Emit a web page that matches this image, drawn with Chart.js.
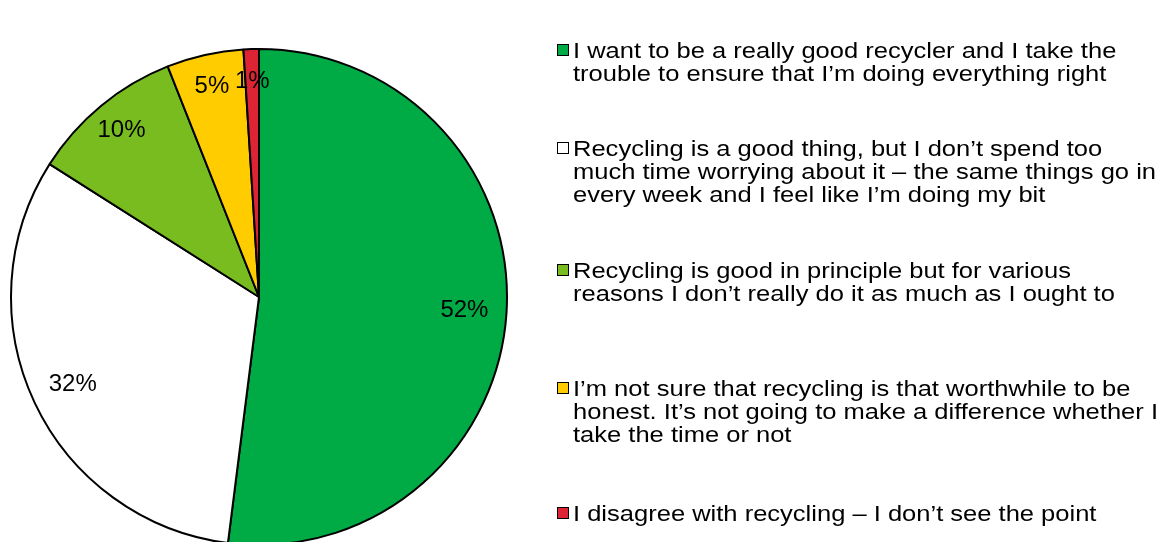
<!DOCTYPE html>
<html>
<head>
<meta charset="utf-8">
<script src="https://cdn.jsdelivr.net/npm/chart.js@4.4.1/dist/chart.umd.min.js"></script>
<style>
  html, body { margin: 0; padding: 0; background: #fff; overflow: hidden; width: 1165px; height: 542px; }
  #wrap { position: absolute; left: 0; top: 0; width: 1165px; height: 542px; overflow: hidden; }
  #pie { position: absolute; left: 0; top: 0; }
  #legend { position: absolute; left: 0; top: 0; width: 1165px; height: 542px; font-family: "Liberation Sans", Arial, sans-serif; color: #000; }
  .item { position: absolute; left: 557px; white-space: nowrap; }
  .box { position: absolute; left: 0; width: 10px; height: 10px; border: 1px solid #000; box-sizing: content-box; }
  .txt { position: absolute; left: 16px; top: 0; font-size: 22px; line-height: 23px; transform-origin: 0 0; transform: scaleX(1.16); }
</style>
</head>
<body>
<div id="wrap">
  <canvas id="pie" width="540" height="600"></canvas>
  <div id="legend"></div>
</div>
<script>
// ---- data ----
const categories = [
  ["I want to be a really good recycler and I take the", "trouble to ensure that I\u2019m doing everything right"],
  ["Recycling is a good thing, but I don\u2019t spend too", "much time worrying about it \u2013 the same things go in", "every week and I feel like I\u2019m doing my bit"],
  ["Recycling is good in principle but for various", "reasons I don\u2019t really do it as much as I ought to"],
  ["I\u2019m not sure that recycling is that worthwhile to be", "honest. It\u2019s not going to make a difference whether I", "take the time or not"],
  ["I disagree with recycling \u2013 I don\u2019t see the point"]
];
const values = [52, 32, 10, 5, 1];
const colors = ["#00AA45", "#FFFFFF", "#78BC20", "#FFCC00", "#DC2434"];

// ---- layout (styles / positions) ----
const legendFirstLineCenters = [50, 148, 270, 388, 513];
const lineHeight = 23;

const pctLabels = {
  id: 'pctLabels',
  afterDatasetsDraw(chart) {
    const ctx = chart.ctx;
    const meta = chart.getDatasetMeta(0);
    ctx.save();
    ctx.font = '24px "Liberation Sans", Arial, sans-serif';
    ctx.fillStyle = '#000';
    ctx.textAlign = 'center';
    ctx.textBaseline = 'middle';
    meta.data.forEach((arc, i) => {
      const p = arc.getProps(['x', 'y', 'startAngle', 'endAngle', 'outerRadius'], true);
      const mid = (p.startAngle + p.endAngle) / 2;
      const v = chart.data.datasets[0].data[i];
      const f = v >= 20 ? 0.83 : 0.87;
      ctx.fillText(v + '%', p.x + Math.cos(mid) * p.outerRadius * f, p.y + Math.sin(mid) * p.outerRadius * f);
    });
    ctx.restore();
  }
};

new Chart(document.getElementById('pie'), {
  type: 'pie',
  data: {
    labels: categories.map(l => l.join(' ')),
    datasets: [{
      data: values,
      backgroundColor: colors,
      borderColor: '#000',
      borderWidth: 2
    }]
  },
  options: {
    responsive: false,
    animation: false,
    layout: { padding: { left: 10, top: 48, right: 32, bottom: 54 } },
    plugins: { legend: { display: false }, tooltip: { enabled: false } }
  },
  plugins: [pctLabels]
});

// ---- HTML legend built from the data ----
const legend = document.getElementById('legend');
categories.forEach((lines, i) => {
  const item = document.createElement('div');
  item.className = 'item';
  item.style.top = (legendFirstLineCenters[i] - lineHeight / 2) + 'px';
  const box = document.createElement('div');
  box.className = 'box';
  box.style.background = colors[i];
  box.style.top = (lineHeight / 2 - 6) + 'px';
  const txt = document.createElement('div');
  txt.className = 'txt';
  txt.innerHTML = lines.map(s => s.replace(/&/g, '&amp;').replace(/</g, '&lt;')).join('<br>');
  item.appendChild(box);
  item.appendChild(txt);
  legend.appendChild(item);
});
</script>
</body>
</html>
